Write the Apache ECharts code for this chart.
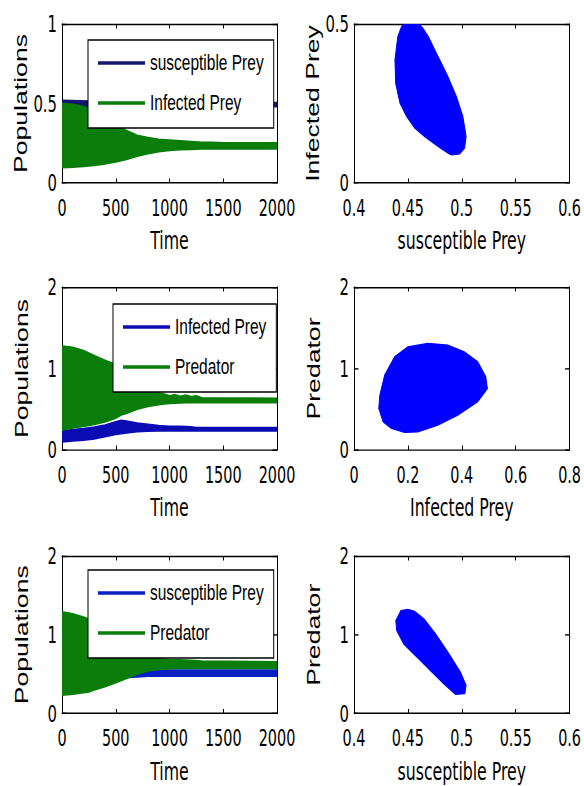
<!DOCTYPE html>
<html>
<head>
<meta charset="utf-8">
<script src="https://cdn.jsdelivr.net/npm/echarts/dist/echarts.min.js"></script>
<style>
  html, body { margin: 0; padding: 0; background: #fff; overflow: hidden; }
  #wrap { width: 584px; height: 786px; overflow: hidden; }
  /* the figure is drawn in a shorter canvas and stretched vertically */
  #chart { width: 584px; height: 561.43px; transform: scaleY(1.4); transform-origin: 0 0; }
</style>
</head>
<body>
<div id="wrap"><div id="chart"></div></div>
<script>
// vertical stretch of the drawing surface
const SY = 1.4;
const Y = v => v / SY;

// colours
const GREEN = '#0a7d0a';
const NAVY = '#16166e';
const BLUE = '#0b0bb4';
const BLUE5 = '#0b20c4';
const ORBIT = '#0000ff';

// ---- Panel 1: susceptible prey & infected prey vs time (oscillation envelopes) ----
const p1SusT    = [0, 250, 500, 1000, 1500, 2000];
const p1SusLow  = [0.44, 0.445, 0.455, 0.47, 0.48, 0.48];
const p1SusHigh = [0.52, 0.515, 0.51, 0.505, 0.505, 0.505];

const p1InfT    = [0, 100, 200, 300, 400, 500, 600, 700, 800, 900, 1000, 1100, 1200, 1300, 1400, 1500, 2000];
const p1InfHigh = [0.50, 0.495, 0.48, 0.45, 0.41, 0.37, 0.33, 0.30, 0.285, 0.275, 0.27, 0.265, 0.26, 0.255, 0.255, 0.252, 0.252];
const p1InfLow  = [0.097, 0.10, 0.104, 0.11, 0.12, 0.133, 0.148, 0.168, 0.185, 0.197, 0.205, 0.209, 0.212, 0.214, 0.214, 0.214, 0.214];

// ---- Panel 3: infected prey & predator vs time ----
const p3InfT    = [0, 100, 200, 300, 400, 500, 550, 600, 700, 800, 900, 1000, 1100, 1200, 1250, 2000];
const p3InfHigh = [0.235, 0.25, 0.262, 0.28, 0.305, 0.345, 0.365, 0.355, 0.33, 0.315, 0.30, 0.29, 0.29, 0.285, 0.275, 0.274];
const p3InfLow  = [0.10, 0.11, 0.12, 0.135, 0.163, 0.19, 0.20, 0.21, 0.225, 0.23, 0.235, 0.235, 0.235, 0.234, 0.233, 0.233];

const p3PredT    = [0, 100, 200, 300, 400, 500, 550, 600, 700, 800, 900, 950, 1000, 1050, 1100, 1150, 1200, 1250, 1300, 2000];
const p3PredHigh = [1.276, 1.26, 1.22, 1.16, 1.10, 1.05, 1.0, 0.95, 0.86, 0.78, 0.70, 0.685, 0.665, 0.68, 0.66, 0.675, 0.655, 0.665, 0.64, 0.634];
const p3PredLow  = [0.245, 0.27, 0.29, 0.315, 0.345, 0.39, 0.43, 0.45, 0.50, 0.535, 0.555, 0.565, 0.572, 0.575, 0.578, 0.58, 0.58, 0.58, 0.58, 0.58];

// ---- Panel 5: susceptible prey & predator vs time ----
const p5SusT    = [0, 500, 700, 800, 1000, 2000];
const p5SusLow  = [0.44, 0.45, 0.465, 0.474, 0.474, 0.474];
const p5SusHigh = [0.52, 0.53, 0.55, 0.55, 0.55, 0.55];

const p5PredT    = [0, 100, 200, 250, 300, 400, 500, 600, 700, 800, 900, 1000, 1100, 1200, 1300, 2000];
const p5PredHigh = [1.29, 1.265, 1.225, 1.20, 1.16, 1.06, 0.95, 0.85, 0.77, 0.72, 0.695, 0.685, 0.68, 0.675, 0.665, 0.656];
const p5PredLow  = [0.233, 0.245, 0.265, 0.275, 0.30, 0.34, 0.39, 0.445, 0.50, 0.54, 0.56, 0.57, 0.572, 0.572, 0.572, 0.572];

// ---- Phase portraits: outline of the filled orbit region ----
const orbitSI_S = [0.4442, 0.447, 0.452, 0.4611, 0.464, 0.469, 0.475, 0.481, 0.487, 0.495, 0.501, 0.504, 0.5026, 0.498, 0.4903, 0.4873, 0.478, 0.4657, 0.4565, 0.4489, 0.4427, 0.4387, 0.438, 0.4406];
const orbitSI_I = [0.492, 0.5, 0.5, 0.497, 0.486, 0.46, 0.418, 0.377, 0.335, 0.272, 0.209, 0.146, 0.110, 0.092, 0.089, 0.094, 0.115, 0.146, 0.172, 0.209, 0.251, 0.313, 0.387, 0.46];

const orbitIP_I = [0.20, 0.274, 0.348, 0.409, 0.459, 0.489, 0.495, 0.459, 0.385, 0.311, 0.237, 0.188, 0.139, 0.108, 0.092, 0.096, 0.114, 0.151];
const orbitIP_P = [1.266, 1.306, 1.287, 1.205, 1.082, 0.898, 0.755, 0.592, 0.429, 0.306, 0.224, 0.216, 0.265, 0.347, 0.51, 0.674, 0.919, 1.143];

const orbitSP_S = [0.4435, 0.4501, 0.4562, 0.465, 0.4757, 0.488, 0.4987, 0.504, 0.5028, 0.4942, 0.4832, 0.4708, 0.4585, 0.4462, 0.4396, 0.4388];
const orbitSP_P = [1.305, 1.32, 1.297, 1.20, 1.01, 0.758, 0.526, 0.358, 0.253, 0.244, 0.379, 0.547, 0.716, 0.884, 1.053, 1.179];

// ---- axis ranges ----
const timeAxis = { min: 0, max: 2000, interval: 500 };
const susAxis  = { min: 0.4, max: 0.6, interval: 0.05 };
const infAxis  = { min: 0, max: 0.8, interval: 0.2 };
const pop1Axis = { min: 0, max: 1, interval: 0.5 };
const infYAxis = { min: 0, max: 0.5, interval: 0.5 };
const pop2Axis = { min: 0, max: 2, interval: 1 };

const NARROW = '"Liberation Sans Narrow", "DejaVu Sans Condensed", "Arial Narrow", sans-serif';
const SANS = '"Liberation Sans", Arial, Helvetica, sans-serif';

// plot boxes in page pixels: [left, top, width, height]
const boxes = [
  [62, 24, 215, 159], [354, 24, 217, 159],
  [62, 287, 215, 163], [354, 287, 217, 163],
  [62, 556, 215, 157.5], [354, 556, 217, 157.5]
];

const fmt = v => String(+v.toFixed(3));

const grids = [], xAxes = [], yAxes = [];
function panel(g, xr, yr, xName, yName) {
  const b = boxes[g];
  grids.push({ left: b[0], top: Y(b[1]), width: b[2], height: Y(b[3]), containLabel: false });
  const line = { show: true, onZero: false, lineStyle: { color: '#000', width: 1 } };
  xAxes.push({
    gridIndex: g, type: 'value', position: 'bottom', ...xr,
    axisLine: line,
    axisTick: { show: true, inside: true, length: 3.2, lineStyle: { color: '#000' } },
    axisLabel: { color: '#000', fontFamily: NARROW, fontSize: 16, margin: 10, formatter: fmt },
    splitLine: { show: false },
    name: xName, nameLocation: 'middle', nameGap: 32,
    nameTextStyle: { color: '#000', fontFamily: NARROW, fontSize: 17.5 }
  });
  xAxes.push({
    gridIndex: g, type: 'value', position: 'top', ...xr,
    axisLine: line,
    axisTick: { show: true, inside: true, length: 3.2, lineStyle: { color: '#000' } },
    axisLabel: { show: false }, splitLine: { show: false }
  });
  yAxes.push({
    gridIndex: g, type: 'value', position: 'left', ...yr,
    axisLine: line,
    axisTick: { show: true, inside: true, length: 4.5, lineStyle: { color: '#000' } },
    axisLabel: { color: '#000', fontFamily: NARROW, fontSize: 16.5, margin: 5, formatter: fmt },
    splitLine: { show: false },
    name: yName, nameLocation: 'middle', nameGap: 31,
    nameTextStyle: { color: '#000', fontFamily: SANS, fontSize: 19 }
  });
  yAxes.push({
    gridIndex: g, type: 'value', position: 'right', ...yr,
    axisLine: line,
    axisTick: { show: true, inside: true, length: 4.5, lineStyle: { color: '#000' } },
    axisLabel: { show: false }, splitLine: { show: false }
  });
}

panel(0, timeAxis, pop1Axis, 'Time', 'Populations');
panel(1, susAxis, infYAxis, 'susceptible Prey', 'Infected Prey');
panel(2, timeAxis, pop2Axis, 'Time', 'Populations');
panel(3, infAxis, pop2Axis, 'Infected Prey', 'Predator');
panel(4, timeAxis, pop2Axis, 'Time', 'Populations');
panel(5, susAxis, pop2Axis, 'susceptible Prey', 'Predator');

// closed filled outline through the axes of panel g
function polySeries(name, g, xs, ys, color, strokeW) {
  return {
    type: 'custom', name, xAxisIndex: 2 * g, yAxisIndex: 2 * g,
    data: xs.map((x, i) => [x, ys[i]]),
    renderItem(params, api) {
      if (params.dataIndex !== 0) return null;
      const pts = xs.map((x, i) => api.coord([x, ys[i]]));
      const cs = params.coordSys;
      return {
        type: 'polygon', shape: { points: pts },
        style: { fill: color, stroke: color, lineWidth: strokeW },
        clipPath: { type: 'rect', shape: { x: cs.x, y: cs.y, width: cs.width, height: cs.height } }
      };
    }
  };
}
// band between the lower and upper envelope of an oscillating series
function bandSeries(name, g, t, lo, hi, color) {
  const xs = t.concat(t.slice().reverse());
  const ys = hi.concat(lo.slice().reverse());
  return polySeries(name, g, xs, ys, color, 1.2);
}

function legendAt(left, topPx, items) {
  return {
    left, top: Y(topPx), orient: 'vertical', icon: 'rect',
    itemWidth: 47, itemHeight: 2.4, itemGap: 8.6, itemTextGap: 4,
    padding: [6.4, 10, 7.9, 10],
    borderColor: '#000', borderWidth: 1, backgroundColor: '#fff',
    selectedMode: false,
    textStyle: { fontFamily: SANS, fontSize: 15.5, lineHeight: 20, color: '#000' },
    data: items.map(([name, color]) => ({ name, itemStyle: { color } }))
  };
}

const series = [
  bandSeries('susceptible Prey', 0, p1SusT, p1SusLow, p1SusHigh, NAVY),
  bandSeries('Infected Prey', 0, p1InfT, p1InfLow, p1InfHigh, GREEN),
  polySeries('S-I orbit', 1, orbitSI_S, orbitSI_I, ORBIT, 1),
  bandSeries('Infected Prey', 2, p3InfT, p3InfLow, p3InfHigh, BLUE),
  bandSeries('Predator', 2, p3PredT, p3PredLow, p3PredHigh, GREEN),
  polySeries('I-P orbit', 3, orbitIP_I, orbitIP_P, ORBIT, 1),
  bandSeries('susceptible Prey', 4, p5SusT, p5SusLow, p5SusHigh, BLUE5),
  bandSeries('Predator', 4, p5PredT, p5PredLow, p5PredHigh, GREEN),
  polySeries('S-P orbit', 5, orbitSP_S, orbitSP_P, ORBIT, 1)
];

const chart = echarts.init(document.getElementById('chart'), null, { renderer: 'svg' });
chart.setOption({
  animation: false,
  backgroundColor: '#fff',
  grid: grids,
  xAxis: xAxes,
  yAxis: yAxes,
  legend: [
    legendAt(88, 40, [['susceptible Prey', NAVY], ['Infected Prey', GREEN]]),
    legendAt(113, 304, [['Infected Prey', BLUE], ['Predator', GREEN]]),
    legendAt(88, 570, [['susceptible Prey', BLUE5], ['Predator', GREEN]])
  ],
  series
});
</script>
</body>
</html>
